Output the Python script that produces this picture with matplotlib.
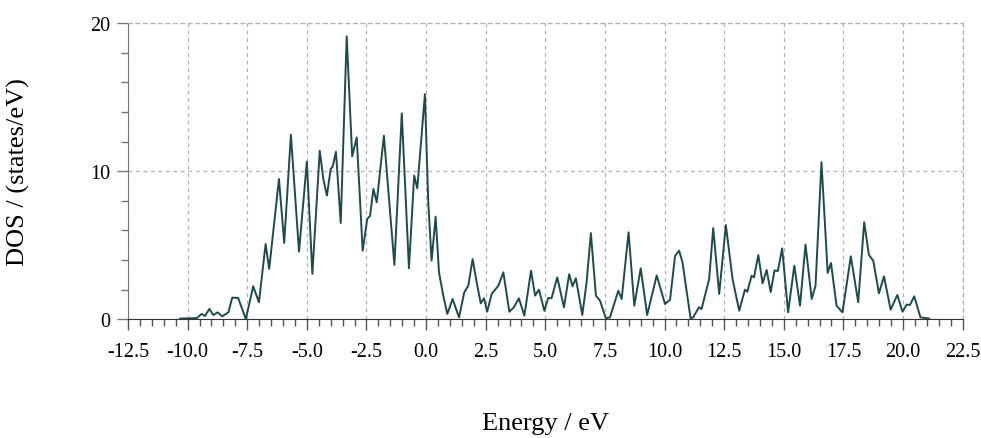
import matplotlib.pyplot as plt
from matplotlib.ticker import MultipleLocator

# points (extrema + a few shoulders)
energy = [-10.32, -10.0, -9.62, -9.41, -9.27, -9.09, -8.92, -8.74, -8.55, -8.29,
          -8.13, -7.88, -7.56, -7.25, -7.01, -6.73, -6.58, -6.17, -5.95, -5.67,
          -5.33, -5.0, -4.77, -4.46, -4.31, -4.16, -4.0, -3.92, -3.78, -3.58,
          -3.33, -3.10, -2.91, -2.66, -2.47, -2.35, -2.21, -2.07, -1.77, -1.33,
          -1.02, -0.72, -0.50, -0.37, -0.05, 0.09, 0.23, 0.40, 0.54, 0.72,
          0.89, 1.11, 1.38, 1.60, 1.77, 1.95, 2.12, 2.29, 2.43, 2.56,
          2.75, 3.03, 3.24, 3.49, 3.68, 3.89, 4.12, 4.40, 4.57, 4.73,
          4.96, 5.12, 5.26, 5.50, 5.78, 6.0, 6.14, 6.28, 6.55, 6.73,
          6.91, 7.12, 7.29, 7.54, 7.71, 8.06, 8.20, 8.49, 8.73, 9.0,
          9.27, 9.67, 10.02, 10.23, 10.44, 10.61, 10.75, 11.09, 11.2, 11.44,
          11.55, 11.87, 12.04, 12.29, 12.57, 12.85, 13.13, 13.37, 13.47, 13.65,
          13.75, 13.93, 14.11, 14.28, 14.45, 14.61, 14.75, 14.93, 15.18, 15.44,
          15.68, 15.91, 16.17, 16.33, 16.58, 16.84, 16.98, 17.21, 17.46, 17.81,
          18.12, 18.37, 18.57, 18.75, 18.99, 19.2, 19.48, 19.76, 19.98, 20.15,
          20.29, 20.47, 20.73, 21.1]
dos = [0.05, 0.06, 0.08, 0.36, 0.22, 0.70, 0.29, 0.47, 0.2, 0.47,
       1.46, 1.44, 0.02, 2.23, 1.15, 5.08, 3.4, 9.47, 5.15, 12.46,
       4.57, 10.64, 3.06, 11.38, 9.47, 8.35, 10.15, 10.3, 11.31, 6.5,
       19.1, 11.0, 12.28, 4.63, 6.77, 6.99, 8.8, 7.9, 12.39, 3.67,
       13.9, 3.44, 9.7, 8.84, 15.2, 7.9, 3.96, 6.93, 3.17, 1.6,
       0.36, 1.37, 0.13, 1.82, 2.27, 4.07, 2.5, 1.08, 1.42, 0.51,
       1.71, 2.27, 3.17, 0.51, 0.81, 1.42, 0.24, 3.28, 1.6, 2.0,
       0.58, 1.44, 1.42, 2.83, 0.81, 3.04, 2.23, 2.77, 0.29, 2.5,
       5.82, 1.6, 1.26, 0.07, 0.13, 1.93, 1.37, 5.87, 0.92, 3.44,
       0.29, 2.96, 1.03, 1.32, 4.29, 4.63, 3.85, 0.07, 0.13, 0.81,
       0.69, 2.72, 6.16, 1.71, 6.36, 2.72, 0.58, 2.0, 1.86, 2.94,
       2.83, 4.34, 2.43, 3.33, 1.84, 3.3, 3.26, 4.79, 0.47, 3.62,
       0.92, 5.04, 1.37, 2.27, 10.6, 3.13, 3.8, 0.92, 0.47, 4.25,
       1.15, 6.55, 4.34, 3.96, 1.75, 2.9, 0.65, 1.64, 0.51, 0.99,
       0.97, 1.55, 0.13, 0.05]

x_ticks = [-12.5, -10.0, -7.5, -5.0, -2.5, 0.0, 2.5, 5.0, 7.5, 10.0, 12.5, 15.0, 17.5, 20.0, 22.5]
y_ticks = [0, 10, 20]

plt.rcParams['font.family'] = ['Liberation Serif', 'DejaVu Serif']

fig = plt.figure(figsize=(9.81, 4.39), dpi=100)
ax = fig.add_axes([0.1305, 0.2704, 0.8508, 0.6749])

ax.plot(energy, dos, color='#1d4b4b', lw=1.4, solid_joinstyle='round', solid_capstyle='round')

ax.set_xlim(-12.5, 22.5)
ax.set_ylim(0, 20)
ax.set_xticks(x_ticks)
ax.set_xticklabels(['%.1f' % v for v in x_ticks])
ax.set_yticks(y_ticks)
ax.xaxis.set_minor_locator(MultipleLocator(0.5))
ax.yaxis.set_minor_locator(MultipleLocator(2))

ax.grid(True, which='major', color='#b0b0b0', ls=(0, (3, 3)), lw=0.9)
for side in ['top', 'right']:
    ax.spines[side].set_color('#b0b0b0')
    ax.spines[side].set_linestyle((0, (3, 3)))
    ax.spines[side].set_linewidth(0.9)
ax.spines['left'].set_color('#777777')
ax.spines['bottom'].set_color('#333333')

ax.tick_params(axis='x', which='major', length=8, width=1, color='#555555', labelsize=14.5, pad=8)
ax.tick_params(axis='x', which='minor', length=5, width=1, color='#555555')
ax.tick_params(axis='y', which='major', length=8, width=1, color='#777777', labelsize=14.5, pad=5)
ax.tick_params(axis='y', which='minor', length=5, width=1, color='#777777')

ax.set_ylabel('DOS / (states/eV)', fontsize=19)
ax.yaxis.set_label_coords(-0.1175, 0.5)
ax.set_xlabel('Energy / eV', fontsize=19)
ax.xaxis.set_label_coords(0.5, -0.312)

fig.savefig('out.png', dpi=100)
